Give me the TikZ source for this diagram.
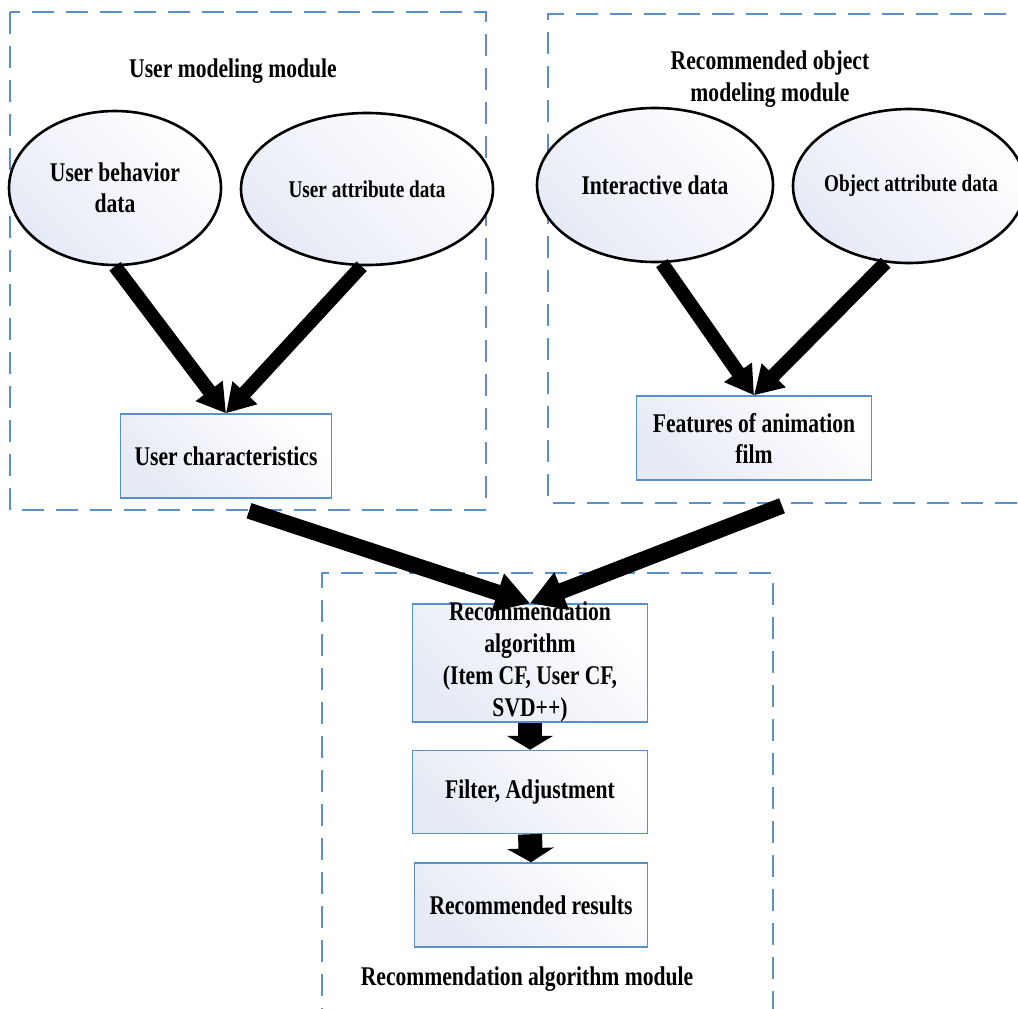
\documentclass[tikz,border=0pt]{standalone}
\usepackage{fontspec}
\setmainfont{Liberation Serif}[FakeStretch=0.8]
\usetikzlibrary{shapes.geometric,arrows.meta}
\definecolor{dashc}{HTML}{5B8FCB}
\definecolor{boxc}{HTML}{5B8FCB}
\definecolor{fillc}{HTML}{E6EAF5}
\tikzset{
  dbox/.style={draw=dashc, line width=1.6pt, dash pattern=on 22pt off 12pt},
  ell/.style={ellipse, draw=black, line width=2.6pt, top color=fillc, bottom color=white, shading angle=135, inner sep=0pt},
  bx/.style={rectangle, draw=boxc, line width=1.5pt, top color=fillc, bottom color=white, shading angle=135, inner sep=0pt},
  txt/.style={align=center, font=\bfseries\fontsize{27}{31}\selectfont, inner sep=0pt},
  stxt/.style={align=center, font=\bfseries\fontsize{24}{28}\selectfont, inner sep=0pt},
  bigarr/.style={line width=14pt, -{Triangle[length=28pt 0 0, width=32pt 0 0]}},
  widearr/.style={line width=16pt, -{Triangle[length=34pt 0 0, width=38pt 0 0]}},
  shortarr/.style={line width=24pt, -{Triangle[length=14pt 0 0, width=46pt 0 0]}}
}
\begin{document}
\begin{tikzpicture}[x=1pt,y=-1pt]
\useasboundingbox (0,0) rectangle (1018,1009);
\clip (0,0) rectangle (1018,1009);
\fill[white] (0,0) rectangle (1018,1009);

% dashed module frames
\draw[dbox] (10,12) rectangle (486,510);
\draw[dbox] (1040,14) -- (548,14) -- (548,503) -- (1040,503);
\draw[dbox] (322,1030) -- (322,573) -- (773,573) -- (773,1030);

% module titles
\node[txt] (tum) at (233,71) {User modeling module};
\node[txt, font=\bfseries\fontsize{27}{32}\selectfont] (trom) at (770,79) {Recommended object\\modeling module};
\node[txt] (tram) at (527,979) {Recommendation algorithm module};

% ellipses
\node[ell, minimum width=212pt, minimum height=154pt] (e1) at (115,188) {};
\node[ell, minimum width=252pt, minimum height=152pt] (e2) at (367,189) {};
\node[ell, minimum width=236pt, minimum height=154pt] (e3) at (655,185) {};
\node[ell, minimum width=232pt, minimum height=154pt] (e4) at (909,186) {};
\node[txt] (t1) at (115,188) {User behavior\\data};
\node[stxt] (t2) at (367,189) {User attribute data};
\node[txt] (t3) at (655,185) {Interactive data};
\node[stxt] (t4) at (911,186) {Object attribute data};

% boxes
\node[bx, minimum width=211pt, minimum height=84pt] (uc) at (226,456) {};
\node[bx, minimum width=235pt, minimum height=84pt] (ff) at (754,438) {};
\node[bx, minimum width=235pt, minimum height=118pt] (ra) at (530,663) {};
\node[bx, minimum width=235pt, minimum height=83pt] (fa) at (530,792) {};
\node[bx, minimum width=233pt, minimum height=84pt] (rr) at (531,905) {};
\node[txt] (tuc) at (226,456) {User characteristics};
\node[txt] (tff) at (754,438) {Features of animation\\film};
\node[txt, font=\bfseries\fontsize{27}{32}\selectfont] (tra) at (530,662) {Recommendation\\algorithm\\(Item CF, User CF,\\SVD++)};
\node[txt] (tfa) at (530,792) {Filter, Adjustment};
\node[txt] (trr) at (531,905) {Recommended results};

% arrows
\draw[bigarr] (e1.south) -- (uc.north);
\draw[bigarr] (e2.-94) -- (uc.north);
\draw[bigarr] (e3.-85) -- (ff.north);
\draw[bigarr] (e4.-107) -- (ff.north);
\draw[widearr] ([xshift=23pt,yshift=-12pt]uc.south) -- (ra.north);
\draw[widearr] ([xshift=28pt,yshift=-25pt]ff.south) -- (ra.north);
\draw[shortarr] (ra.south) -- (fa.north);
\draw[shortarr] (fa.south) -- (rr.north);
\end{tikzpicture}
\end{document}
